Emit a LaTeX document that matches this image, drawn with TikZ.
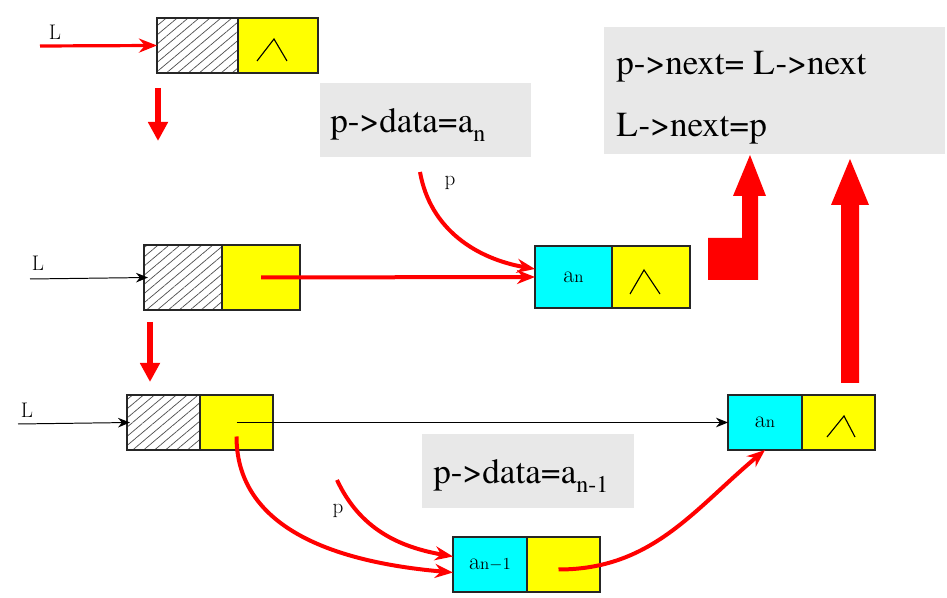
\documentclass[tikz,border=0pt]{standalone}
\usepackage{fontspec}
\newfontfamily\stmtfont[Ligatures=TeX]{texgyretermes-regular.otf}
\usetikzlibrary{positioning,arrows.meta,patterns.meta}
\definecolor{boxgray}{HTML}{E8E8E8}
\definecolor{datcyan}{RGB}{0,255,255}
\definecolor{nxtyellow}{RGB}{255,255,0}
\definecolor{arrred}{RGB}{255,0,0}
\newcommand{\lowsub}[1]{\raisebox{-6.4pt}{\fontsize{17}{17}\selectfont #1}}
\newcommand{\smallidx}[1]{{\fontsize{12}{12}\selectfont #1}}

\begin{document}
\begin{tikzpicture}[x=0.25mm,y=0.25mm,
    cell/.style={draw=black!85,line width=0.9pt,inner sep=0pt,outer sep=0pt},
    hatch/.style={cell,pattern={Lines[angle=40,distance=5pt,line width=0.5pt]},pattern color=black!70},
    nxt/.style={cell,fill=nxtyellow},
    dat/.style={cell,fill=datcyan,font=\fontsize{17}{17}\selectfont},
    lbl/.style={font=\fontsize{15}{15}\selectfont},
    code/.style={font=\stmtfont\fontsize{25}{30}\selectfont,inner sep=0pt},
    link/.style={arrred,line width=1mm,-{Stealth[length=4.5mm,width=3.5mm]}},
    ptr/.style={black,line width=0.7pt,-{Stealth[length=3mm,width=2.4mm]}},
    bigdown/.style={arrred,line width=1.6mm,-{Triangle[length=4.75mm,width=4.75mm]}},
    wedge/.style={line width=0.8pt}]
    \useasboundingbox (0,0) rectangle (947,598);

    % grey boxes with the statements
    \fill[boxgray] (320,441) rectangle (531,515);
    \node[code,anchor=base west] (cmd1) at (330,465) {p->data=a\lowsub{n}};
    \fill[boxgray] (604,444) rectangle (945,571);
    \node[code,anchor=base west] (cmd2) at (616,523) {p->next= L->next};
    \node[code,anchor=base west] (cmd3) at (616,461) {L->next=p};
    \fill[boxgray] (422,90) rectangle (634,164);
    \node[code,anchor=base west] (cmd4) at (433,114) {p->data=a\lowsub{n-1}};

    % empty list
    \node[hatch,minimum width=20.25mm,minimum height=13.75mm] (hd1) at (197.5,552.5) {};
    \node[nxt,right=0pt of hd1,minimum width=20mm,minimum height=13.75mm] (hn1) {};
    \draw[wedge] ([shift={(-21,-15.5)}]hn1.center) -- ++(17,22) -- ++(13,-22);
    \node[lbl] (L1) at (55,566) {L};
    \coordinate (s1) at (40,552);
    \draw[link,line width=0.8mm] (s1) -- (hd1.west);
    \draw[bigdown] ([shift={(1,-15)}]hd1.south west) -- ++(0,-53);

    % after inserting a_n
    \node[hatch,minimum width=19.5mm,minimum height=16.25mm] (hd2) at (183,320.5) {};
    \node[nxt,right=0pt of hd2,minimum width=19.5mm,minimum height=16.25mm] (hn2) {};
    \node[lbl] (L2) at (38,335) {L};
    \coordinate (s2) at (30,319);
    \draw[ptr] (s2) -- ([xshift=1mm]hd2.west);
    \node[dat,minimum width=19.25mm,minimum height=15.5mm] (an) at (573.5,321) {a\smallidx{n}};
    \node[nxt,right=0pt of an,minimum width=19.5mm,minimum height=15.5mm] (ann) {};
    \draw[wedge] ([shift={(-21,-17)}]ann.center) -- ++(14,24) -- ++(16,-24);
    \draw[link] (hn2.center) -- (an.west);
    \node[lbl] (p1) at (450,415) {p};
    \coordinate (q1) at (420,426);
    \draw[link] (q1) to[out=-80,in=170] ([yshift=2mm]an.west);
    \draw[bigdown] ([shift={(6,-12)}]hd2.south west) -- ++(0,-60);

    % the two block arrows
    \fill[arrred] (708,318) -- (758,318) -- (758,402) -- (766,402) -- (750,443)
        -- (733,402) -- (742,402) -- (742,360) -- (708,360) -- cycle;
    \fill[arrred] (841,215) -- (859,215) -- (859,393) -- (869,393) -- (850,439)
        -- (831,393) -- (841,393) -- cycle;

    % inserting a_{n-1}
    \node[hatch,minimum width=18.25mm,minimum height=13.75mm] (hd3) at (163.5,175.5) {};
    \node[nxt,right=0pt of hd3,minimum width=18.25mm,minimum height=13.75mm] (hn3) {};
    \node[lbl] (L3) at (27,188) {L};
    \coordinate (s3) at (18,174);
    \draw[ptr] (s3) -- ([xshift=0.75mm]hd3.west);
    \node[dat,minimum width=18.5mm,minimum height=13.75mm] (an3) at (765,175.5) {a\smallidx{n}};
    \node[nxt,right=0pt of an3,minimum width=18.25mm,minimum height=13.75mm] (ann3) {};
    \draw[wedge] ([shift={(-11.5,-14.5)}]ann3.center) -- ++(17,21) -- ++(11,-21);
    \draw[ptr] (hn3.center) -- (an3.west);
    \node[dat,minimum width=18.5mm,minimum height=13.75mm] (an1) at (490,33.5) {a\smallidx{n$-$1}};
    \node[nxt,right=0pt of an1,minimum width=18.25mm,minimum height=13.75mm] (an1n) {};
    \node[lbl] (p2) at (338,87) {p};
    \coordinate (q2) at (337,118);
    \draw[link] (q2) to[out=-65,in=170] ([yshift=2mm]an1.west);
    \draw[link] ([yshift=-3.5mm]hn3.center) to[out=-90,in=175] ([yshift=-2mm]an1.west);
    \draw[link] ([shift={(-5,-5)}]an1n.center) to[out=0,in=-140] (an3.south);
\end{tikzpicture}
\end{document}
